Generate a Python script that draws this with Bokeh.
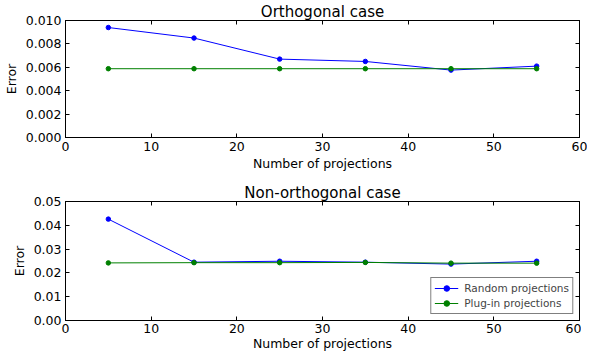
from bokeh.plotting import figure
from bokeh.layouts import column
from bokeh.models import LinearAxis, SingleIntervalTicker, Range1d, Legend, LegendItem, NumeralTickFormatter
from bokeh.embed import file_html
from bokeh.resources import INLINE

x = [5, 15, 25, 35, 45, 55]
ortho_random = [0.0094, 0.0085, 0.0067, 0.0065, 0.00576, 0.0061]
ortho_plugin = [0.00588, 0.00588, 0.00588, 0.00588, 0.00588, 0.00588]
nonortho_random = [0.0426, 0.0245, 0.0249, 0.0245, 0.0237, 0.0249]
nonortho_plugin = [0.0242, 0.0243, 0.0243, 0.0244, 0.0241, 0.0241]

FONT = "DejaVu Sans"
BLUE = "#0000ff"
GREEN = "#008000"


def style_axis(ax, show_labels=True):
    ax.major_tick_in = 4
    ax.major_tick_out = 0
    ax.minor_tick_in = 0
    ax.minor_tick_out = 0
    ax.axis_line_color = "black"
    ax.major_tick_line_color = "black"
    ax.major_label_text_font = FONT
    ax.axis_label_text_font = FONT
    ax.axis_label_text_font_size = "12.5px"
    ax.axis_label_text_font_style = "normal"
    ax.axis_label_text_color = "black"
    if show_labels:
        ax.major_label_text_font_size = "12.5px"
        ax.major_label_text_color = "black"
        ax.major_label_standoff = 4
    else:
        ax.major_label_text_font_size = "0px"
        ax.major_label_text_color = None
        ax.major_label_standoff = 0


def make(title, yr, ystep, fmt, fh, bt, bb, ry, py, xstand, legend=False):
    p = figure(frame_width=514, frame_height=fh, output_backend="svg", toolbar_location=None,
               x_range=Range1d(0, 60), y_range=Range1d(0, yr),
               min_border_left=59, min_border_right=8, min_border_top=bt, min_border_bottom=bb)
    p.title.text = title
    p.title.align = "center"
    p.title.text_font = FONT
    p.title.text_font_size = "15px"
    p.title.text_font_style = "normal"
    p.title.text_color = "black"
    p.title.standoff = 0
    p.title.offset = 0
    p.grid.visible = False
    p.outline_line_color = "black"
    p.outline_line_alpha = 1
    p.xaxis.ticker = SingleIntervalTicker(interval=10)
    p.yaxis.ticker = SingleIntervalTicker(interval=ystep)
    p.yaxis.formatter = NumeralTickFormatter(format=fmt)
    p.xaxis.axis_label = "Number of projections"
    p.yaxis.axis_label = "Error"
    for ax in p.xaxis + p.yaxis:
        style_axis(ax)
    p.xaxis.axis_label_standoff = xstand[0]
    p.xaxis.major_label_standoff = xstand[1]
    p.yaxis.axis_label_standoff = 4
    top = LinearAxis(ticker=SingleIntervalTicker(interval=10))
    right = LinearAxis(ticker=SingleIntervalTicker(interval=ystep))
    style_axis(top, False)
    style_axis(right, False)
    p.add_layout(top, "above")
    p.add_layout(right, "right")

    r1 = p.line(x, ry, line_color=BLUE, line_width=1)
    s1 = p.scatter(x, ry, size=4.5, fill_color=BLUE, line_color=BLUE)
    r2 = p.line(x, py, line_color=GREEN, line_width=1)
    s2 = p.scatter(x, py, size=4.5, fill_color=GREEN, line_color=GREEN)
    if legend:
        lg = Legend(items=[LegendItem(label="Random projections", renderers=[r1, s1]),
                           LegendItem(label="Plug-in projections", renderers=[r2, s2])],
                    location="bottom_right")
        lg.margin = 6
        lg.padding = 3
        lg.spacing = 1
        lg.label_text_font = FONT
        lg.label_text_font_size = "10.5px"
        lg.label_height = 14
        lg.glyph_height = 14
        lg.glyph_width = 24
        lg.label_standoff = 6
        lg.border_line_color = "black"
        lg.border_line_width = 1
        lg.background_fill_alpha = 1
        p.add_layout(lg, "center")
    return p


p1 = make("Orthogonal case", 0.010, 0.002, "0.000", 117, 0, 44, ortho_random, ortho_plugin, (2, 4))
p2 = make("Non-orthogonal case", 0.05, 0.01, "0.00", 119, 0, 0, nonortho_random, nonortho_plugin, (0, 3), legend=True)

layout = column(p1, p2, spacing=0)
open("out.html", "w").write(file_html(layout, INLINE))
